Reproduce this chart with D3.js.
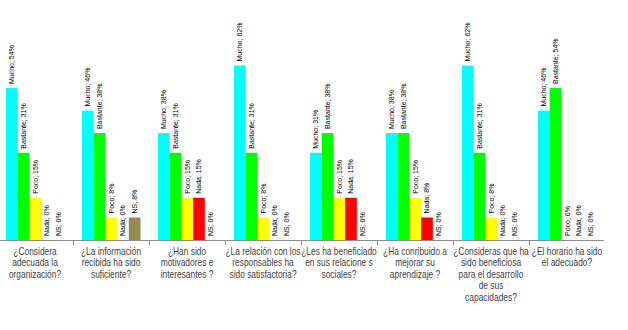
<!DOCTYPE html>
<html>
<head>
<meta charset="utf-8">
<script src="https://cdn.jsdelivr.net/npm/d3@7"></script>
<style>
  body { margin: 0; background: #fff; }
  svg { display: block; }
</style>
</head>
<body>
<svg id="chart" width="628" height="330"></svg>
<script>
// questions (one group each), already split into lines as in the picture
var questions = [
  ["¿Considera", "adecuada la", "organización?"],
  ["¿La información", "recibida ha sido", "suficiente?"],
  ["¿Han sido", "motivadores e", "interesantes ?"],
  ["¿La relación con los", "responsables  ha", "sido satisfactoria?"],
  ["¿Les ha beneficiado", "en sus relacione s", "sociales?"],
  ["¿Ha conribuido a", "mejorar su", "aprendizaje ?"],
  ["¿Consideras que ha", "sido beneficiosa", "para el desarrollo", "de sus", "capacidades?"],
  ["¿El horario ha sido", "el adecuado?"]
];

var seriesNames = ["Mucho", "Bastante", "Poco", "Nada", "NS"];
var seriesColors = ["#00ffff", "#00ff00", "#ffff00", "#ff0000", "#948a54"];

// percentages, one array per series, in question order
var mucho    = [54, 46, 38, 62, 31, 38, 62, 46];
var bastante = [31, 38, 31, 31, 38, 38, 31, 54];
var poco     = [15,  8, 15,  8, 15, 15,  8,  0];
var nada     = [ 0,  0, 15,  0, 15,  8,  0,  0];
var ns       = [ 0,  8,  0,  0,  0,  0,  0,  0];

var seriesValues = [mucho, bastante, poco, nada, ns];

var svg = d3.select("#chart");

var baseY = 240;

// x scale for the questions, and an inner one for the 5 answers
var x0 = d3.scaleBand()
    .domain(d3.range(questions.length))
    .range([-3, 605]);

var x1 = d3.scaleBand()
    .domain(seriesNames)
    .range([9, 67.5]);

var y = d3.scaleLinear()
    .domain([0, 70])
    .range([baseY, baseY - 197]);

// flatten into one row per bar
var rows = [];
questions.forEach(function(q, i) {
  seriesNames.forEach(function(s, j) {
    rows.push({ q: i, name: s, value: seriesValues[j][i], color: seriesColors[j] });
  });
});

var groups = svg.append("g");

groups.selectAll("rect")
  .data(rows)
  .enter()
  .append("rect")
    .attr("x", function(d) { return x0(d.q) + x1(d.name); })
    .attr("y", function(d) { return y(d.value); })
    .attr("width", x1.bandwidth())
    .attr("height", function(d) { return baseY - y(d.value); })
    .style("fill", function(d) { return d.color; });

// value labels, rotated, just above each bar
groups.selectAll("text.val")
  .data(rows)
  .enter()
  .append("text")
    .attr("class", "val")
    .attr("transform", function(d) {
      var cx = x0(d.q) + x1(d.name) + x1.bandwidth() / 2;
      return "translate(" + cx + "," + (y(d.value) - 4) + ") rotate(-90)";
    })
    .attr("dy", "0.35em")
    .style("font-family", "'Liberation Sans', Arial, sans-serif")
    .style("font-size", "7px")
    .style("fill", "#000")
    .text(function(d) { return d.name + "; " + d.value + "%"; });

// category axis: line and ticks between groups
svg.append("line")
  .attr("x1", 0).attr("x2", 604)
  .attr("y1", baseY + 0.5).attr("y2", baseY + 0.5)
  .style("stroke", "#8c8c8c")
  .style("stroke-width", 1);

svg.selectAll("line.tick")
  .data(d3.range(1, questions.length))
  .enter()
  .append("line")
    .attr("class", "tick")
    .attr("x1", function(d) { return Math.round(x0(d)) + 0.5; })
    .attr("x2", function(d) { return Math.round(x0(d)) + 0.5; })
    .attr("y1", baseY)
    .attr("y2", baseY + 5)
    .style("stroke", "#8c8c8c");

// question labels, squeezed a little to look like the narrow original font
var qlab = svg.selectAll("g.q")
  .data(questions)
  .enter()
  .append("g")
    .attr("class", "q")
    .attr("transform", function(d, i) {
      return "translate(" + (x0(i) + x0.bandwidth() / 2) + ",255) scale(0.84,1)";
    })
  .append("text")
    .attr("text-anchor", "middle")
    .style("font-family", "'Liberation Sans', Arial, sans-serif")
    .style("font-size", "10px")
    .style("fill", "#404040");

qlab.selectAll("tspan")
  .data(function(d) { return d; })
  .enter()
  .append("tspan")
    .attr("x", 0)
    .attr("dy", function(d, i) { return i === 0 ? 0 : 11.4; })
    .text(function(d) { return d; });
</script>
</body>
</html>
